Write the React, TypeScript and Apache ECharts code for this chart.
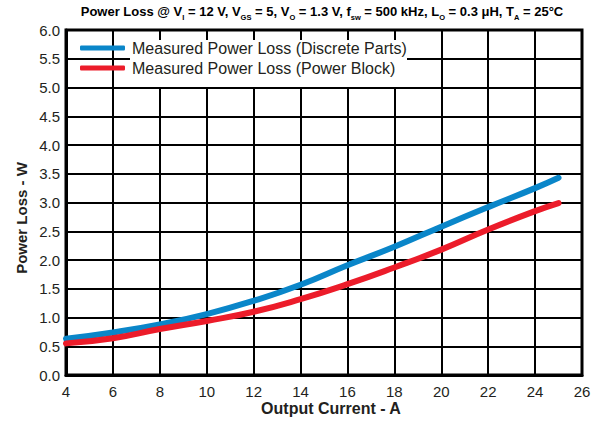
import React, { useEffect, useRef } from "react";
import * as echarts from "echarts";

const currents = [4, 6, 8, 10, 12, 14, 16, 18, 20, 22, 24, 25];
const discreteLoss = [0.63, 0.74, 0.88, 1.06, 1.29, 1.57, 1.91, 2.23, 2.58, 2.92, 3.25, 3.43];
const blockLoss = [0.55, 0.64, 0.8, 0.94, 1.1, 1.32, 1.58, 1.87, 2.18, 2.53, 2.85, 2.99];
const seriesNames = ["Measured Power Loss (Discrete Parts)", "Measured Power Loss (Power Block)"];
const seriesColors = ["#0a86c9", "#ec1c2a"];
const xTitle = "Output Current - A";
const yTitle = "Power Loss - W";

const FONT = "'Liberation Sans', Arial, Helvetica, sans-serif";

export default function App() {
  const ref = useRef<HTMLDivElement>(null);
  useEffect(() => {
    if (!ref.current) return;
    const chart = echarts.init(ref.current, undefined, { renderer: "svg" });
    const sub = { fontSize: 7.5, fontWeight: "bold", fontFamily: FONT, color: "#000", verticalAlign: "bottom", padding: [0, 0, -3, 0] };
    chart.setOption({
      animation: false,
      backgroundColor: "#fff",
      title: {
        text: "Power Loss @ V{s|I} = 12 V, V{s|GS} = 5, V{s|O} = 1.3 V, f{s|sw} = 500 kHz, L{s|O} = 0.3 μH, T{s|A} = 25°C",
        left: 322,
        top: 5,
        textAlign: "center",
        padding: 0,
        textStyle: {
          fontSize: 13,
          fontWeight: "bold",
          fontFamily: FONT,
          color: "#000",
          rich: { s: sub },
        },
      },
      legend: {
        orient: "vertical",
        left: 80,
        top: 38,
        padding: 0,
        itemGap: 0,
        itemWidth: 45,
        itemHeight: 5,
        icon: "roundRect",
        z: 5,
        textStyle: { fontSize: 16, fontFamily: FONT, color: "#231f20", lineHeight: 20, padding: [0, 0, 0, 2] },
        data: seriesNames,
      },
      graphic: [
        { type: "rect", z: 1, shape: { x: 130, y: 40, width: 277, height: 47 }, style: { fill: "#fff" } },
        {
          type: "text",
          x: 331,
          y: 408,
          style: { text: xTitle, font: `bold 16px ${FONT}`, fill: "#231f20", textAlign: "center", textVerticalAlign: "middle" },
        },
        {
          type: "text",
          x: 21,
          y: 218,
          rotation: Math.PI / 2,
          style: { text: yTitle, font: `bold 15px ${FONT}`, fill: "#231f20", textAlign: "center", textVerticalAlign: "middle" },
        },
      ],
      grid: { left: 66, right: 16, top: 30, bottom: 48, show: true, borderColor: "#000", borderWidth: 3, backgroundColor: "transparent" },
      xAxis: {
        type: "value",
        min: 4,
        max: 26,
        interval: 2,
        axisLine: { show: true, lineStyle: { color: "#000", width: 3 } },
        axisTick: { show: false },
        axisLabel: { fontSize: 15, fontFamily: FONT, color: "#231f20", margin: 9 },
        splitLine: { show: true, lineStyle: { color: "#000", width: 2 } },
      },
      yAxis: {
        type: "value",
        min: 0,
        max: 6,
        interval: 0.5,
        axisLine: { show: true, lineStyle: { color: "#000", width: 3 } },
        axisTick: { show: false },
        axisLabel: { fontSize: 15, fontFamily: FONT, color: "#231f20", margin: 6, formatter: (v: number) => v.toFixed(1) },
        splitLine: { show: true, lineStyle: { color: "#000", width: 2 } },
      },
      series: [
        {
          name: seriesNames[0],
          type: "line",
          smooth: true,
          showSymbol: false,
          color: seriesColors[0],
          lineStyle: { width: 6, cap: "round", color: seriesColors[0] },
          data: currents.map((c, i) => [c, discreteLoss[i]]),
        },
        {
          name: seriesNames[1],
          type: "line",
          smooth: true,
          showSymbol: false,
          color: seriesColors[1],
          lineStyle: { width: 6, cap: "round", color: seriesColors[1] },
          data: currents.map((c, i) => [c, blockLoss[i]]),
        },
      ],
    });
    return () => chart.dispose();
  }, []);
  return <div ref={ref} style={{ width: 598, height: 423, position: "absolute", left: 0, top: 0 }} />;
}
